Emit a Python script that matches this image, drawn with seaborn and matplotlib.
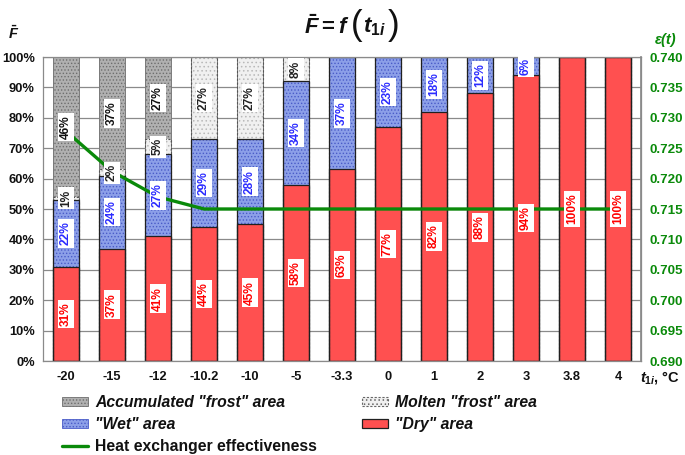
import matplotlib
matplotlib.use("Agg")
import matplotlib.pyplot as plt
import seaborn as sns
import numpy as np
import pandas as pd
from matplotlib.patches import Patch
from matplotlib.lines import Line2D

# ---------------- data ----------------
temps = ['-20', '-15', '-12', '-10.2', '-10', '-5', '-3.3', '0', '1', '2', '3', '3.8', '4']
dry = [31, 37, 41, 44, 45, 58, 63, 77, 82, 88, 94, 100, 100]
wet = [22, 24, 27, 29, 28, 34, 37, 23, 18, 12, 6, 0, 0]
molten = [1, 2, 5, 27, 27, 8, 0, 0, 0, 0, 0, 0, 0]
accum = [46, 37, 27, 0, 0, 0, 0, 0, 0, 0, 0, 0, 0]
effectiveness = [0.7278, 0.7212, 0.7170, 0.7150, 0.7150, 0.7150, 0.7150,
                 0.7150, 0.7150, 0.7150, 0.7150, 0.7150, 0.7150]
eff_ticks = [0.690, 0.695, 0.700, 0.705, 0.710, 0.715, 0.720, 0.725, 0.730, 0.735, 0.740]
legend_labels = ['Accumulated "frost" area', '"Wet" area', 'Heat exchanger effectiveness',
                 'Molten "frost" area', '"Dry" area']

# ---------------- style ----------------
sns.set_theme(style="white")
plt.rcParams['font.family'] = ['Liberation Sans', 'DejaVu Sans']
plt.rcParams['font.weight'] = 'bold'
plt.rcParams['mathtext.fontset'] = 'custom'
plt.rcParams['mathtext.it'] = 'Liberation Sans:bold:italic'
plt.rcParams['mathtext.rm'] = 'Liberation Sans:bold'
plt.rcParams['mathtext.bf'] = 'Liberation Sans:bold'
plt.rcParams['hatch.linewidth'] = 0.6

DRY_C = '#ff5050'
WET_C = '#8c9fe8'
WET_H = '#4a5cc8'
ACC_C = '#b0b0b0'
ACC_H = '#6e6e6e'
MOL_C = '#f0f0f0'
MOL_H = '#b8b8b8'
LINE_C = '#0a8a0a'

df = pd.DataFrame({'temp': temps, 'dry': dry, 'wet': wet, 'molten': molten, 'accum': accum})
df['c_dry'] = df['dry']
df['c_wet'] = df['c_dry'] + df['wet']
df['c_mol'] = df['c_wet'] + df['molten']
df['c_acc'] = df['c_mol'] + df['accum']

fig = plt.figure(figsize=(6.85, 4.55), dpi=100)
ax = fig.add_axes([43 / 685, 1 - 361 / 455, (641 - 43) / 685, (361 - 57) / 455])

W = 0.56
common = dict(data=df, x='temp', order=temps, ax=ax, errorbar=None, width=W, saturation=1)

# textured fills (top to bottom so lower layers cover upper cumulative bars)
sns.barplot(y='c_acc', color=ACC_C, facecolor=ACC_C, edgecolor=ACC_H, hatch='.....', linewidth=0, **common)
sns.barplot(y='c_mol', color=MOL_C, facecolor=MOL_C, edgecolor=MOL_H, hatch='....', linewidth=0, **common)
sns.barplot(y='c_wet', color=WET_C, facecolor=WET_C, edgecolor=WET_H, hatch='.....', linewidth=0, **common)
sns.barplot(y='c_dry', color=DRY_C, facecolor=DRY_C, edgecolor=DRY_C, linewidth=0, **common)
# outlines
sns.barplot(y='c_acc', color='#7a7a7a', facecolor='none', edgecolor='#7a7a7a', linewidth=0.7, **common)
sns.barplot(y='c_mol', color='#555555', facecolor='none', edgecolor='#555555', linewidth=0.8,
            linestyle=(0, (2, 1.5)), **common)
sns.barplot(y='c_wet', color='#202020', facecolor='none', edgecolor='#202020', linewidth=0.9, **common)
sns.barplot(y='c_dry', color='#202020', facecolor='none', edgecolor='#202020', linewidth=0.9, **common)

ax.set_xlim(-0.5, len(temps) - 0.5)
ax.set_ylim(0, 100)
ax.set_yticks(np.arange(0, 101, 10))
ax.set_yticklabels([f'{v}%' for v in range(0, 101, 10)], fontsize=9.3, fontweight='bold', color='#111111')
ax.set_xticks(range(len(temps)))
ax.set_xticklabels(temps, fontsize=9.3, fontweight='bold', color='#111111')
ax.tick_params(axis='both', length=0)
ax.tick_params(axis='y', pad=6)
ax.tick_params(axis='x', pad=7)
ax.set_xlabel('')
ax.set_ylabel('')
ax.yaxis.grid(True, color='#8a8a8a', lw=0.9)
ax.xaxis.grid(False)
ax.set_axisbelow(True)
for s in ax.spines.values():
    s.set_color('#8a8a8a')
    s.set_linewidth(0.9)

# effectiveness line on secondary axis
ax2 = ax.twinx()
sns.lineplot(x=np.arange(len(temps)), y=effectiveness, ax=ax2, color=LINE_C, lw=2.4)
ax2.set_ylim(0.690, 0.740)
ax2.set_yticks(eff_ticks)
ax2.set_yticklabels([f'{v:.3f}' for v in eff_ticks], fontsize=9.6, fontweight='bold', color=LINE_C)
ax2.tick_params(axis='y', length=0, pad=6)
ax2.set_xlim(-0.5, len(temps) - 0.5)
ax2.grid(False)
ax2.set_xlabel('')
ax2.set_ylabel('')
for k, s in ax2.spines.items():
    s.set_visible(k == 'right')
ax2.spines['right'].set_color('#8a8a8a')

# data labels (on ax2 so they sit over the line)
def add_labels(vals, bottoms, color):
    for i, (v, b) in enumerate(zip(vals, bottoms)):
        if v <= 0:
            continue
        ax2.text(i, b + v / 2, f'{v}%', transform=ax.transData, rotation=90,
                 ha='center', va='center', fontsize=8.6, fontweight='bold', color=color,
                 bbox=dict(boxstyle='square,pad=0.2', fc='white', ec='none'), zorder=10)

add_labels(dry, [0] * len(temps), '#ff0000')
add_labels(wet, df['c_dry'].tolist(), '#2b2bff')
add_labels(molten, df['c_wet'].tolist(), '#222222')
add_labels(accum, df['c_mol'].tolist(), '#111111')

# title built from pieces so the parentheses can be tall
TY = 1 - 27 / 455
fig.text(350 / 685, TY, r'$\bar{F} = f$', ha='right', va='center', fontsize=16, color='#111111')
fig.text(357 / 685, 1 - 26 / 455, '(', ha='center', va='center', fontsize=25, color='#111111',
         fontweight='normal')
fig.text(363 / 685, TY, r'$t_{1i}$', ha='left', va='center', fontsize=16, color='#111111')
fig.text(394 / 685, 1 - 26 / 455, ')', ha='center', va='center', fontsize=25, color='#111111',
         fontweight='normal')

fig.text(14 / 685, 1 - 33 / 455, r'$\bar{F}$', ha='center', va='center', fontsize=10.5, color='#111111')
fig.text(666 / 685, 1 - 40 / 455, 'ε(t)', ha='center', va='center', fontsize=10.5,
         fontstyle='italic', fontweight='bold', color=LINE_C)
fig.text(640 / 685, 1 - 377 / 455, r'$t_{1i}$, °C', ha='left', va='center', fontsize=10.5,
         fontweight='bold', color='#111111')

# legend
handles = [
    Patch(facecolor=ACC_C, edgecolor=ACC_H, hatch='.....', lw=0.6),
    Patch(facecolor=WET_C, edgecolor=WET_H, hatch='.....', lw=0.6),
    Line2D([0], [0], color=LINE_C, lw=2.4),
    Patch(facecolor=MOL_C, edgecolor='#666666', hatch='....', lw=0.8, linestyle=(0, (2, 1.5))),
    Patch(facecolor=DRY_C, edgecolor='#202020', lw=0.9),
]
leg = fig.legend(handles, legend_labels, loc='upper left', bbox_to_anchor=(62 / 685, 1 - 395 / 455),
                 ncol=2, frameon=False, borderpad=0, borderaxespad=0,
                 handlelength=1.65, handleheight=0.5, handletextpad=0.45, columnspacing=2.9,
                 labelspacing=0.46, prop=dict(size=11.3, weight='bold', style='italic'))
for t in leg.get_texts():
    t.set_color('#111111')
leg.get_texts()[2].set_fontstyle('normal')

fig.savefig('out.png', dpi=100)
